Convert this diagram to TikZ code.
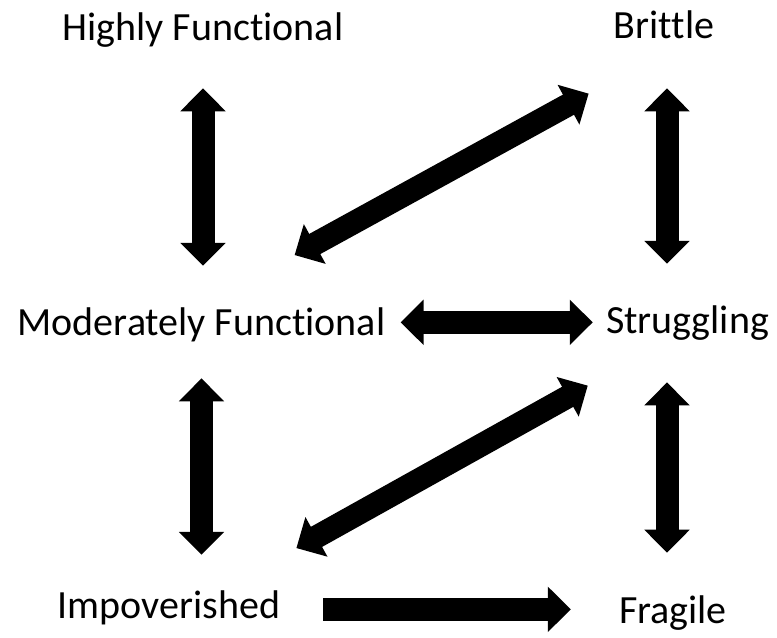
\documentclass[tikz,border=0pt]{standalone}
\usepackage{fontspec}
\setmainfont{Carlito}[Ligatures=NoCommon]
\usetikzlibrary{arrows.meta}

\begin{document}
\begin{tikzpicture}[
    % One unit is one pixel of the layout, y grows downwards
    x=0.75pt, y=-0.75pt,
    % Style for the state labels
    level_label/.style={
        inner sep=0pt,
        anchor=base,
        text height=20pt,
        text depth=7pt,
        font=\fontsize{30pt}{36pt}\selectfont
    },
    % Style for the thick two-headed arrows
    both_way/.style={
        line width=17.25pt,
        {Triangle[length=17.25pt, width=33pt]}-{Triangle[length=17.25pt, width=33pt]}
    },
    % Style for the thick one-headed arrow
    one_way/.style={
        line width=17.25pt,
        -{Triangle[length=17.25pt, width=33pt]}
    }
]
\useasboundingbox (0,0) rectangle (777,637);

% 1. Place the nodes
\node[level_label] (highly) at (203,40) {Highly Functional};
\node[level_label] (brittle) at (664,38) {Brittle};
\node[level_label] (moderately) at (201.5,335) {Moderately Functional};
\node[level_label] (strug) at (687.5,333) {Struggling};
\node[level_label] (impov) at (169,618) {Impoverished};
\node[level_label] (fragile) at (673,623) {Fragile};

% 2. Draw the arrows between the nodes
\draw[both_way, shorten <=29pt, shorten >=31.7pt]
    (highly.south) -- (highly.south |- moderately.north);

\draw[both_way, shorten <=30.5pt, shorten >=31.7pt, transform canvas={xshift=2.25pt}]
    (brittle.south) -- (brittle.south |- strug.north);

\draw[both_way] ([shift={(-91,-53)}]moderately.north east) -- ([shift={(-25,46)}]brittle.south west);

\draw[both_way, shorten <=11.25pt, shorten >=9.75pt, transform canvas={yshift=3pt}]
    (moderately.east) -- (moderately.east -| strug.west);

\draw[both_way, shorten <=25.3pt, shorten >=27.2pt]
    (moderately.south) -- (moderately.south |- impov.north);

\draw[both_way] ([shift={(16,-43)}]impov.north east) -- ([shift={(-18,43)}]strug.south west);

\draw[both_way, shorten <=29.8pt, shorten >=32.5pt, transform canvas={xshift=-4.5pt}]
    (fragile.north |- strug.south) -- (fragile.north);

% the only one-way step
\draw[one_way, shorten <=32.25pt, shorten >=36pt]
    (impov.east) -- (impov.east -| fragile.west);

\end{tikzpicture}
\end{document}
